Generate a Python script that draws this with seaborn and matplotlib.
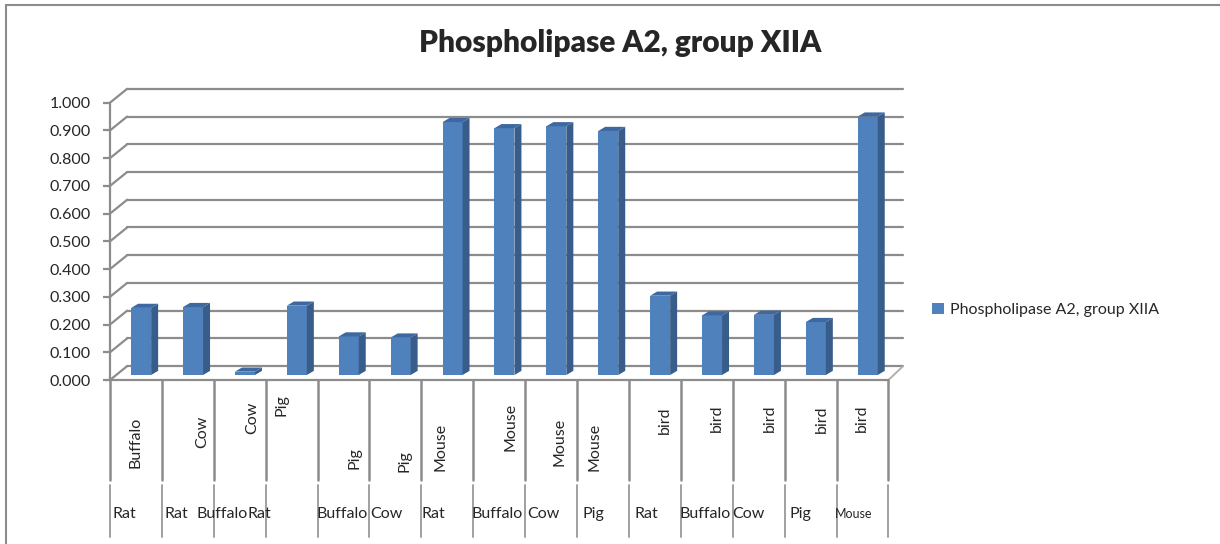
import matplotlib
matplotlib.use("Agg")
import matplotlib.pyplot as plt
from matplotlib.patches import Polygon
from matplotlib.lines import Line2D
import seaborn as sns
import pandas as pd

# data
species = ['Buffalo', 'Cow', 'Cow', 'Pig', 'Pig', 'Pig', 'Mouse', 'Mouse', 'Mouse', 'Mouse',
           'bird', 'bird', 'bird', 'bird', 'bird']
compared = ['Rat', 'Rat', 'Buffalo', 'Rat', 'Buffalo', 'Cow', 'Rat', 'Buffalo', 'Cow', 'Pig',
            'Rat', 'Buffalo', 'Cow', 'Pig', 'Mouse']
values = [0.242, 0.245, 0.012, 0.250, 0.139, 0.135, 0.912, 0.890, 0.897, 0.880,
          0.286, 0.215, 0.217, 0.191, 0.932]
series_name = 'Phospholipase A2, group XIIA'

# label placement (Excel's odd layout), in category units / pixel rows
top_dx = [0.0, 0.27, 0.24, -0.19, 0.22, 0.18, -0.14, 0.21, 0.17, -0.16, 0.19, 0.2, 0.22, 0.22, -0.01]
top_py = [442, 432, 418, 405, 458, 461, 447, 427, 442, 447, 420, 418, 418, 419, 418]
bottom_px = [113, 165, 197, 248, 317, 370, 422, 472, 527, 583, 635, 680, 732, 790, 835]

df = pd.DataFrame({'species': species, 'compared': compared, 'value': values})
df['pair'] = df['species'] + '-' + df['compared']

sns.set_style('white')
plt.rcParams['font.family'] = ['Lato', 'DejaVu Sans']

W, H = 1220, 544
fig = plt.figure(figsize=(W / 100, H / 100), dpi=100)
px_per_unit = 51.9
px_per_val = 277.3
ymax = 1.06
ax = fig.add_axes([110 / W, 1 - 380 / H, (0.5 + 14.9) * px_per_unit / W, ymax * px_per_val / H])

front = '#4F81BD'
side = '#385D8A'
top = '#3E68A0'
grid = '#8C8C8C'

sns.barplot(data=df, x='pair', y='value', order=list(df['pair']), color=front,
            width=0.385, saturation=1, label=series_name, ax=ax, zorder=3, edgecolor='none')

# fake 3D: shift the bars onto the floor and add side/top faces
ddx, ddy = 0.135, 0.015
y0 = 0.018
for p in ax.patches:
    x, w, h = p.get_x() + 0.1, p.get_width(), p.get_height()
    p.set_x(x)
    p.set_y(y0)
    ax.add_patch(Polygon([(x + w, y0), (x + w + ddx, y0 + ddy), (x + w + ddx, y0 + h + ddy), (x + w, y0 + h)],
                         closed=True, facecolor=side, edgecolor='none', zorder=3))
    ax.add_patch(Polygon([(x, y0 + h), (x + ddx, y0 + h + ddy), (x + w + ddx, y0 + h + ddy), (x + w, y0 + h)],
                         closed=True, facecolor=top, edgecolor='none', zorder=3))

# back wall gridlines, left wall and floor
wx, wy = 0.33, 0.05
ticks = [i / 10 for i in range(11)]
for v in ticks:
    ax.plot([-0.5 + wx, 14.5 + 0.28], [v + wy, v + wy], color=grid, lw=1.6, zorder=1, clip_on=False)
    ax.plot([-0.5, -0.5 + wx], [v, v + wy], color=grid, lw=1.6, zorder=1, clip_on=False)
ax.plot([14.5, 14.5 + 0.28], [0, wy], color='#B0B0B0', lw=1.4, zorder=1, clip_on=False)

ax.set_xlim(-0.5, 14.9)
ax.set_ylim(0, ymax)
ax.set_yticks(ticks)
ax.set_yticklabels([f'{v:.3f}' for v in ticks], fontsize=11.5)
ax.tick_params(axis='y', length=5, width=1.6, color=grid, pad=9, left=True)
ax.set_xticks([])
ax.set_xlabel('')
ax.set_ylabel('')
for s in ['top', 'right']:
    ax.spines[s].set_visible(False)
ax.spines['left'].set_bounds(0, 1)
ax.spines['bottom'].set_bounds(-0.5, 14.5)
for s in ['left', 'bottom']:
    ax.spines[s].set_color(grid)
    ax.spines[s].set_linewidth(1.6)

# two-level category axis
def val(py):
    return (380 - py) / px_per_val

for i in range(16):
    ax.plot([i - 0.5, i - 0.5], [0, val(480)], color=grid, lw=1.8, clip_on=False)
    ax.plot([i - 0.5, i - 0.5], [val(485), val(537)], color='#A0A0A0', lw=1.4, clip_on=False)
for i, (a, b) in enumerate(zip(species, compared)):
    ax.text(i + top_dx[i], val(top_py[i]), a, rotation=90, ha='center', va='center',
            fontsize=11.5, clip_on=False)
    fs = 9 if i == 14 else 11.5
    ax.text((bottom_px[i] - 110) / px_per_unit - 0.5, val(514), b, ha='left', va='center',
            fontsize=fs, clip_on=False)

fig.suptitle(series_name, x=620 / W, y=1 - 43 / H, va='center', fontsize=21.5, fontweight='heavy')

fig.legend(loc='center left', bbox_to_anchor=(918 / W, 1 - 310 / H), frameon=False,
           fontsize=11.5, handlelength=0.7, handleheight=0.7, handletextpad=0.4)
if ax.get_legend() is not None:
    ax.get_legend().remove()

# chart area border
fig.add_artist(Line2D([6 / W, 1], [1 - 5 / H, 1 - 5 / H], transform=fig.transFigure, color='#8C8C8C', lw=1.5))
fig.add_artist(Line2D([6 / W, 6 / W], [0, 1 - 5 / H], transform=fig.transFigure, color='#8C8C8C', lw=1.5))

fig.savefig('out.png', dpi=100)
